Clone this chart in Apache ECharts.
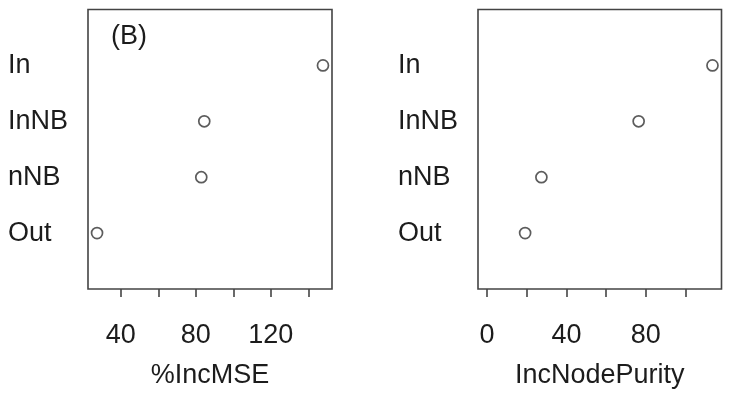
<!DOCTYPE html>
<html>
<head>
<meta charset="utf-8">
<script src="https://cdn.jsdelivr.net/npm/echarts@6/dist/echarts.min.js"></script>
<style>
  html, body { margin: 0; padding: 0; background: #fff; }
  #chart { width: 731px; height: 397px; }
</style>
</head>
<body>
<div id="chart"></div>
<script>
// Variable importance from a random forest, two measures side by side.
// Rows listed bottom to top, as a dot chart stacks them.
const variables = ['Out', 'nNB', 'InNB', 'In'];
const incMSE = [27.3, 82.9, 84.5, 147.8];
const incNodePurity = [19.2, 27.4, 76.4, 113.6];

const mseTicks = [40, 60, 80, 100, 120, 140];
const mseTickLabels = [40, 80, 120];
const purityTicks = [0, 20, 40, 60, 80, 100];
const purityTickLabels = [0, 40, 80];

const panelTag = '(B)';

const FONT = '"Liberation Sans", Arial, Helvetica, sans-serif';
const INK = '#1c1c1c';
const FRAME = '#444';

// Dot chart x range: data range (optionally anchored at 0) widened by 4% each side
function dotRange(values, fromZero) {
  const lo = fromZero ? Math.min(0, Math.min(...values)) : Math.min(...values);
  const hi = Math.max(...values);
  const pad = 0.04 * (hi - lo);
  return { min: lo - pad, max: hi + pad };
}

function xAxisFor(gridIndex, values, fromZero, ticks, labels, name) {
  const r = dotRange(values, fromZero);
  return {
    type: 'value',
    gridIndex,
    min: r.min,
    max: r.max,
    name,
    nameLocation: 'middle',
    nameGap: 73,
    nameTextStyle: { fontFamily: FONT, fontSize: 27, color: INK },
    axisLine: { show: false },
    splitLine: { show: false },
    axisTick: {
      show: true, inside: false, length: 8, customValues: ticks,
      lineStyle: { color: FRAME, width: 1.6 }
    },
    axisLabel: {
      show: true, customValues: labels, margin: 33,
      fontFamily: FONT, fontSize: 27, color: INK
    }
  };
}

function yAxisFor(gridIndex) {
  return {
    type: 'value',
    gridIndex,
    min: 0,
    max: variables.length + 1,
    axisLine: { show: false },
    axisTick: { show: false },
    splitLine: { show: false },
    axisLabel: {
      show: true,
      customValues: variables.map((_, i) => i + 1),
      formatter: v => variables[v - 1] || '',
      align: 'left',
      margin: 80,
      padding: [3, 0, 0, 0],
      fontFamily: FONT, fontSize: 27, color: INK
    }
  };
}

function dots(values, idx) {
  return {
    type: 'scatter',
    xAxisIndex: idx,
    yAxisIndex: idx,
    symbol: 'circle',
    symbolSize: 11,
    itemStyle: { color: '#fff', borderColor: '#333', borderWidth: 1.7 },
    data: values.map((v, i) => [v, i + 1]),
    silent: true,
    animation: false
  };
}

const chart = echarts.init(document.getElementById('chart'), null, { renderer: 'canvas' });
chart.setOption({
  backgroundColor: '#fff',
  animation: false,
  grid: [
    { left: 88, right: 399, top: 9.5, bottom: 108, show: true,
      borderColor: FRAME, borderWidth: 1.6, backgroundColor: 'transparent' },
    { left: 478, right: 9.5, top: 9.5, bottom: 108, show: true,
      borderColor: FRAME, borderWidth: 1.6, backgroundColor: 'transparent' }
  ],
  xAxis: [
    xAxisFor(0, incMSE, false, mseTicks, mseTickLabels, '%IncMSE'),
    xAxisFor(1, incNodePurity, true, purityTicks, purityTickLabels, 'IncNodePurity')
  ],
  yAxis: [yAxisFor(0), yAxisFor(1)],
  graphic: [{
    type: 'text',
    left: 111,
    top: 23,
    style: { text: panelTag, font: '27px ' + FONT, fill: INK }
  }],
  series: [dots(incMSE, 0), dots(incNodePurity, 1)]
});
</script>
</body>
</html>
